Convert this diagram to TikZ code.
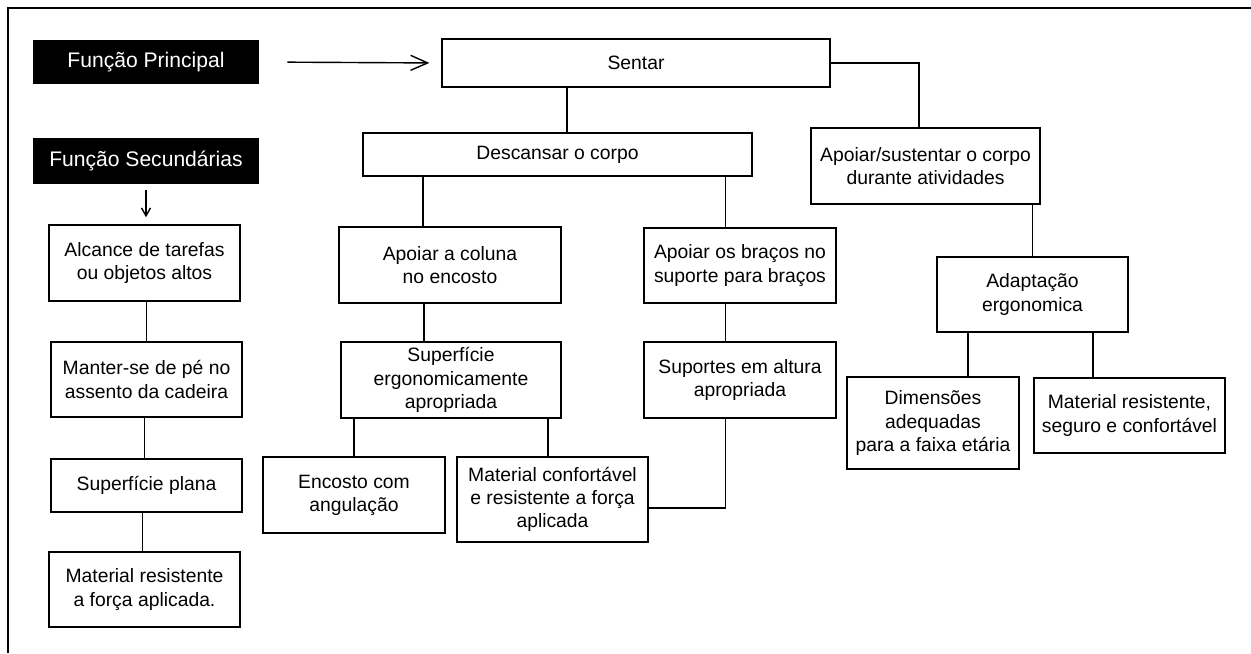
\documentclass[tikz,border=0pt]{standalone}
\usepackage{fontspec}
\setmainfont{Liberation Sans}
\usetikzlibrary{arrows.meta,positioning}

\tikzset{
  box/.style={draw, line width=0.8pt, align=center, inner sep=0pt, font=\fontsize{11}{13.2}\selectfont},
  title/.style={fill=black, text=white, inner sep=0pt, minimum width=4.52cm, font=\fontsize{12}{14}\selectfont},
  link/.style={line width=0.8pt},
}

\begin{document}
\begin{tikzpicture}[x=0.02cm, y=-0.02cm]

  \useasboundingbox (0,0) rectangle (1251,653);
  \draw[link] (8,653) -- (8,8) -- (1251,8);

  \node[title, minimum height=0.88cm] (principal) at (146,62) {Função Principal};
  \node[title, minimum height=0.92cm] (secundarias) at (146,161) {Função Secundárias};

  \node[box, minimum width=7.76cm, minimum height=0.96cm] (sentar) at (636,63) {Sentar};
  \node[box, minimum width=7.78cm, minimum height=0.86cm] (descansar) at (557.5,154.5) {Descansar o corpo};
  \node[box, minimum width=4.58cm, minimum height=1.52cm] (sustentar) at (925.5,166) {Apoiar/sustentar o corpo\\durante atividades};

  \node[box, minimum width=4.44cm, minimum height=1.52cm] (coluna) at (450,265) {Apoiar a coluna\\no encosto};
  \node[box, minimum width=3.84cm, minimum height=1.50cm] (bracos) at (740,265.5) {Apoiar os braços no\\suporte para braços};
  \node[box, minimum width=4.40cm, minimum height=1.52cm] (superficie) at (451,380) {Superfície\\ergonomicamente\\apropriada};
  \node[box, minimum width=3.84cm, minimum height=1.52cm] (suportes) at (740,380) {Suportes em altura\\apropriada};
  \node[box, minimum width=3.64cm, minimum height=1.52cm] (encosto) at (354,495) {Encosto com\\angulação};
  \node[box, minimum width=3.82cm, minimum height=1.70cm] (confortavel) at (552.5,499.5) {Material confortável\\e resistente a força\\aplicada};

  \node[box, minimum width=3.82cm, minimum height=1.50cm] (adaptacao) at (1032.5,294.5) {Adaptação\\ergonomica};
  \node[box, minimum width=3.44cm, minimum height=1.84cm] (dimensoes) at (933,423) {Dimensões\\adequadas\\para a faixa etária};
  \node[box, minimum width=3.82cm, minimum height=1.50cm] (resistente) at (1129.5,415.5) {Material resistente,\\seguro e confortável};

  \node[box, minimum width=3.82cm, minimum height=1.52cm] (alcance) at (144.5,263) {Alcance de tarefas\\ou objetos altos};
  \node[box, minimum width=3.82cm, minimum height=1.50cm] (manter) at (146.5,379.5) {Manter-se de pé no\\assento da cadeira};
  \node[box, minimum width=3.82cm, minimum height=1.06cm] (plana) at (146.5,485.5) {Superfície plana};
  \node[box, minimum width=3.82cm, minimum height=1.50cm] (material) at (144.5,589.5) {Material resistente\\a força aplicada.};

  \draw[link, -{Straight Barb[length=3.4mm, width=3mm]}, shorten <=5.6mm, shorten >=2.4mm] (principal.east) -- (sentar.west);
  \draw[link, -{Straight Barb[length=1.6mm, width=1.8mm]}, shorten <=1.2mm, shorten >=1.4mm] (secundarias.south) -- (secundarias.south |- alcance.north);

  \foreach \parent/\child/\dx in {sentar/descansar/0.19cm, descansar/coluna/-0.54cm, descansar/bracos/-0.29cm,
      coluna/superficie/-0.54cm, bracos/suportes/-0.29cm, superficie/encosto/0cm, superficie/confortavel/-0.09cm,
      sustentar/adaptacao/0cm, adaptacao/dimensoes/0.7cm, adaptacao/resistente/-0.73cm,
      alcance/manter/0cm, manter/plana/-0.04cm, plana/material/-0.04cm}{
    \draw[link] ([xshift=\dx]\child.north) -- ([xshift=\dx]\child.north |- \parent.south);
  }

  \draw[link] (sentar.east) -| ([xshift=-0.13cm]sustentar.north);
  \draw[link] ([xshift=-0.29cm]suportes.south) |- ([yshift=-0.17cm]confortavel.east);

\end{tikzpicture}
\end{document}
